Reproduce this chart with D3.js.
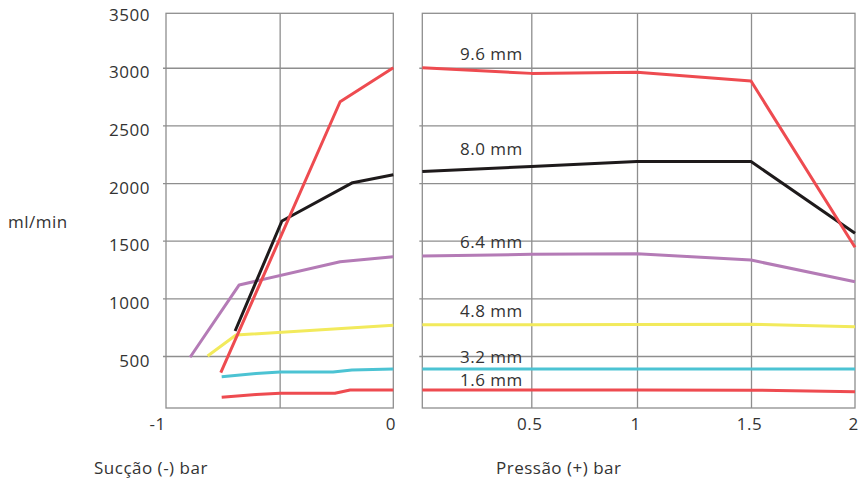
<!DOCTYPE html>
<html><head><meta charset="utf-8">
<script src="https://cdn.jsdelivr.net/npm/d3@7"></script>
<style>
body{margin:0;background:#fff}
svg{display:block}
text{font-family:"Open Sans",sans-serif;font-size:17px;letter-spacing:0.5px;fill:#333}
</style>
</head><body>
<svg id="chart" width="859" height="485"></svg>
<script>
// ---------- data ----------
const seriesNames = ["9.6 mm", "8.0 mm", "6.4 mm", "4.8 mm", "3.2 mm", "1.6 mm"];
const seriesColors = ["#ee4b50", "#1e1a1b", "#b47bb6", "#f2ea5c", "#4cc3d3", "#ee4b50"];

// Suction panel (bar, negative) – each series has its own sample points
const suctionX96 = [-0.759, -0.234, 0];
const suctionY96 = [355, 2705, 3000];
const suctionX80 = [-0.696, -0.49, -0.179, 0];
const suctionY80 = [717, 1671, 2003, 2072];
const suctionX64 = [-0.894, -0.678, -0.234, 0];
const suctionY64 = [489, 1116, 1318, 1361];
const suctionX48 = [-0.817, -0.692, 0];
const suctionY48 = [500, 682, 766];
const suctionX32 = [-0.755, -0.604, -0.498, -0.265, -0.182, 0];
const suctionY32 = [320, 348, 361, 361, 379, 387];
const suctionX16 = [-0.755, -0.604, -0.498, -0.257, -0.19, 0];
const suctionY16 = [142, 166, 177, 177, 205, 205];

// Pressure panel (bar, positive)
const pressureX = [0, 0.5, 1, 1.5, 2];
const pressure96 = [3000, 2951, 2960, 2885, 1443];
const pressure80 = [2100, 2144, 2187, 2187, 1564];
const pressure64 = [1367, 1382, 1387, 1332, 1144];
const pressure48 = [771, 771, 774, 776, 754];
const pressure32 = [387, 387, 387, 387, 387];
const pressure16 = [205, 205, 205, 204, 190];

// label anchor levels (ml/min) for the series names
const labelLevels = [3067, 2243, 1434, 836, 437, 242];

const yGridValues = [500, 1000, 1500, 2000, 2500, 3000];
const yTickValues = [3500, 3000, 2500, 2000, 1500, 1000, 500];
const yTickLabels = ["3500", "3000", "2500", "2000", "1500", "1000", "500"];
const leftTickValues = [-1, 0];
const leftTickLabels = ["-1", "0"];
const rightTickValues = [0.5, 1, 1.5, 2];
const rightTickLabels = ["0.5", "1", "1.5", "2"];
const leftGridValues = [-0.5];
const rightGridValues = [0.5, 1, 1.5];

const yTitle = "ml/min";
const leftTitle = "Sucção (-) bar";
const rightTitle = "Pressão (+) bar";

// ---------- layout ----------
const svg = d3.select("#chart");
const plotTop = 13.3, plotBottom = 408;
const leftPanel = {x0: 166, x1: 393.3};
const rightPanel = {x0: 422.3, x1: 855};

const y = d3.scaleLinear().domain([49, 3472]).range([plotBottom, plotTop]);
const xL = d3.scaleLinear().domain([-1, 0]).range([leftPanel.x0, leftPanel.x1]);
const xR = d3.scaleLinear().domain([0, 0.5, 1, 1.5, 2])
  .range([rightPanel.x0, 531.3, 637, 751, rightPanel.x1]);

const gridColor = "#8e8e8e";

function drawGrid(panel, xs, vGrid) {
  const w = panel.x1 - panel.x0;
  const g = svg.append("g");
  g.append("g")
    .attr("transform", `translate(${panel.x0 - 3},0)`)
    .call(d3.axisLeft(y).tickValues(yGridValues).tickSize(-(w + 3)).tickFormat(""))
    .call(a => a.select(".domain").remove())
    .selectAll("line").attr("stroke", gridColor).attr("stroke-width", 1.3);
  g.append("g")
    .attr("transform", `translate(0,${plotBottom})`)
    .call(d3.axisBottom(xs).tickValues(vGrid).tickSize(-(plotBottom - plotTop)).tickFormat(""))
    .call(a => a.select(".domain").remove())
    .selectAll("line").attr("stroke", gridColor).attr("stroke-width", 1.3);
  g.append("rect")
    .attr("x", panel.x0).attr("y", plotTop)
    .attr("width", w).attr("height", plotBottom - plotTop)
    .attr("fill", "none").attr("stroke", gridColor).attr("stroke-width", 1.3);
}
drawGrid(leftPanel, xL, leftGridValues);
drawGrid(rightPanel, xR, rightGridValues);

// y-axis labels
svg.append("g")
  .attr("transform", `translate(${leftPanel.x0},0)`)
  .call(d3.axisLeft(y).tickValues(yTickValues).tickSize(0).tickPadding(16)
    .tickFormat((d, i) => yTickLabels[i]))
  .call(a => a.select(".domain").remove())
  .call(a => a.attr("font-size", null).attr("font-family", null))
  .selectAll("text").attr("dy", "0.6em").attr("fill", "#333");

// x-axis labels
function xLabels(xs, vals, labels, nudge) {
  svg.append("g")
    .attr("transform", `translate(0,${plotBottom})`)
    .call(d3.axisBottom(xs).tickValues(vals).tickSize(0).tickPadding(10.4)
      .tickFormat((d, i) => labels[i]))
    .call(a => a.select(".domain").remove())
    .call(a => a.attr("font-size", null).attr("font-family", null))
    .selectAll("text").attr("fill", "#333")
    .attr("dx", d => nudge(d));
}
xLabels(xL, leftTickValues, leftTickLabels, d => d < 0 ? -9 : -3);
xLabels(xR, rightTickValues, rightTickLabels, d => -2);

// series lines
const suctionSeries = [
  [suctionX96, suctionY96], [suctionX80, suctionY80], [suctionX64, suctionY64],
  [suctionX48, suctionY48], [suctionX32, suctionY32], [suctionX16, suctionY16]
];
const pressureSeries = [pressure96, pressure80, pressure64, pressure48, pressure32, pressure16];

const lineL = d3.line().x(d => xL(d[0])).y(d => y(d[1]));
const lineR = d3.line().x(d => xR(d[0])).y(d => y(d[1]));

const order = [5, 4, 3, 2, 1, 0];
const linesG = svg.append("g").attr("fill", "none")
  .attr("stroke-width", 3).attr("stroke-linejoin", "round");
order.forEach(i => {
  const [xs, ys] = suctionSeries[i];
  linesG.append("path")
    .datum(xs.map((v, k) => [v, ys[k]]))
    .attr("d", lineL).attr("stroke", seriesColors[i]);
  linesG.append("path")
    .datum(pressureX.map((v, k) => [v, pressureSeries[i][k]]))
    .attr("d", lineR).attr("stroke", seriesColors[i]);
});

// series name labels
svg.append("g").selectAll("text").data(seriesNames).join("text")
  .attr("x", xR(0.5) - 8.5)
  .attr("y", (d, i) => y(labelLevels[i]))
  .attr("text-anchor", "end")
  .text(d => d);

// titles
svg.append("text").attr("x", 8).attr("y", 227.7).text(yTitle);
svg.append("text").attr("x", 94).attr("y", 474).text(leftTitle);
svg.append("text").attr("x", 496).attr("y", 474).text(rightTitle);
</script>
</body></html>
